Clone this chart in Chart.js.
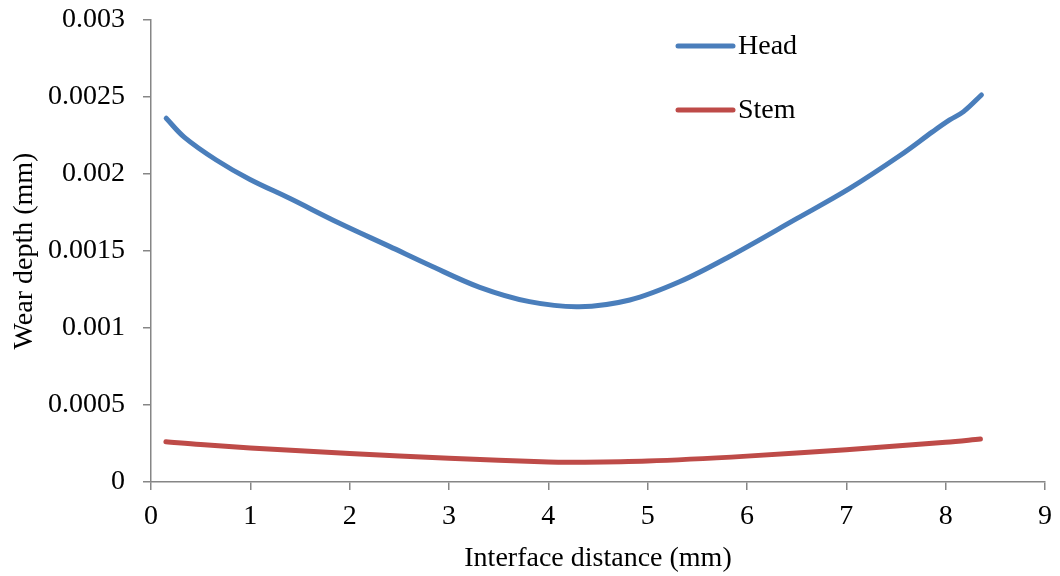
<!DOCTYPE html>
<html>
<head>
<meta charset="utf-8">
<script src="https://cdn.jsdelivr.net/npm/chart.js@4/dist/chart.umd.min.js"></script>
<style>
  html, body { margin: 0; padding: 0; background: #ffffff; }
  #wrap { width: 1060px; height: 576px; position: relative; }
</style>
</head>
<body>
<div id="wrap"><canvas id="chart" width="1060" height="576"></canvas></div>
<script>
// Wear depth along the interface, head and stem surfaces
const distHead = [0.153, 0.337, 0.657, 0.992, 1.395, 1.898, 2.4, 2.8, 3.31, 3.81, 4.31, 4.82, 5.32, 5.82, 6.5, 7.03, 7.54, 7.87, 8.04, 8.18, 8.36];
const wearHead = [0.002362, 0.002238, 0.002091, 0.001966, 0.001842, 0.00168, 0.00153, 0.001409, 0.001264, 0.001171, 0.001138, 0.001182, 0.0013, 0.001463, 0.00171, 0.001905, 0.00212, 0.002275, 0.002351, 0.002405, 0.002513];

const distStem = [0.15, 0.5, 1, 2, 3, 4, 4.25, 5, 6, 7, 8, 8.35];
const wearStem = [0.000262, 0.000243, 0.000221, 0.000185, 0.000155, 0.00013, 0.000128, 0.000136, 0.000168, 0.00021, 0.000258, 0.000279];

const seriesNames = ['Head', 'Stem'];
const seriesColors = ['#4a7ebb', '#be4b48'];

const xTicks = [0, 1, 2, 3, 4, 5, 6, 7, 8, 9];
const yTicks = [0, 0.0005, 0.001, 0.0015, 0.002, 0.0025, 0.003];

const FONT = "'Liberation Serif', 'Times New Roman', serif";
const AXIS_GREY = '#868686';

function toPoints(xs, ys) {
  return xs.map((x, i) => ({ x: x, y: ys[i] }));
}

// Vertical legend inside the plot, upper right
const insideLegend = {
  id: 'insideLegend',
  afterDraw(chart) {
    const ctx = chart.ctx;
    const x0 = 678, x1 = 733, tx = 738;
    const rows = [46, 110];
    ctx.save();
    chart.data.datasets.forEach((ds, i) => {
      const y = rows[i];
      ctx.strokeStyle = ds.borderColor;
      ctx.lineWidth = 5;
      ctx.lineCap = 'round';
      ctx.beginPath();
      ctx.moveTo(x0, y);
      ctx.lineTo(x1, y);
      ctx.stroke();
      ctx.fillStyle = '#000000';
      ctx.font = '28px ' + FONT;
      ctx.textAlign = 'left';
      ctx.textBaseline = 'middle';
      ctx.fillText(ds.label, tx, y + 1);
    });
    ctx.restore();
  }
};

function lineDataset(i, xs, ys) {
  return {
    label: seriesNames[i],
    data: toPoints(xs, ys),
    borderColor: seriesColors[i],
    backgroundColor: seriesColors[i],
    borderWidth: 5,
    pointRadius: 0,
    tension: 0.35,
    borderCapStyle: 'round',
    borderJoinStyle: 'round',
    fill: false
  };
}

new Chart(document.getElementById('chart'), {
  type: 'line',
  data: {
    datasets: [
      lineDataset(0, distHead, wearHead),
      lineDataset(1, distStem, wearStem)
    ]
  },
  options: {
    responsive: false,
    animation: false,
    layout: { padding: { left: 0, right: 15, top: 20, bottom: 0 } },
    plugins: {
      legend: { display: false },
      tooltip: { enabled: false }
    },
    scales: {
      x: {
        type: 'linear',
        min: xTicks[0],
        max: xTicks[xTicks.length - 1],
        afterBuildTicks(scale) { scale.ticks = xTicks.map(v => ({ value: v })); },
        afterFit(scale) {
          scale.height = 94;
          scale.paddingLeft = 0;
          scale.paddingRight = 0;
        },
        ticks: {
          color: '#000000',
          font: { family: FONT, size: 28 },
          padding: 10,
          maxRotation: 0,
          callback: v => String(v)
        },
        grid: {
          display: true,
          drawOnChartArea: false,
          drawTicks: true,
          tickLength: 8,
          color: AXIS_GREY,
          lineWidth: 1.5
        },
        border: { display: true, color: AXIS_GREY, width: 1.5 },
        title: {
          display: true,
          text: 'Interface distance (mm)',
          color: '#000000',
          font: { family: FONT, size: 28 },
          padding: { top: 0, bottom: 1 }
        }
      },
      y: {
        type: 'linear',
        min: yTicks[0],
        max: yTicks[yTicks.length - 1],
        afterBuildTicks(scale) { scale.ticks = yTicks.map(v => ({ value: v })); },
        afterFit(scale) {
          scale.width = 151;
          scale.paddingTop = 0;
          scale.paddingBottom = 0;
        },
        ticks: {
          color: '#000000',
          font: { family: FONT, size: 28 },
          padding: 18,
          callback: v => String(+v.toFixed(6))
        },
        grid: {
          display: true,
          drawOnChartArea: false,
          drawTicks: true,
          tickLength: 8,
          color: AXIS_GREY,
          lineWidth: 1.5
        },
        border: { display: true, color: AXIS_GREY, width: 1.5 },
        title: {
          display: true,
          text: 'Wear depth (mm)',
          color: '#000000',
          font: { family: FONT, size: 28 },
          padding: { top: 8, bottom: 0 }
        }
      }
    }
  },
  plugins: [insideLegend]
});
</script>
</body>
</html>
